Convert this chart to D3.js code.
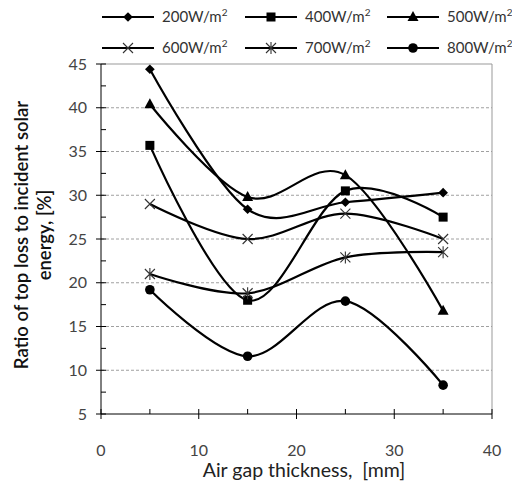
<!DOCTYPE html>
<html>
<head>
<meta charset="utf-8">
<script src="https://cdn.jsdelivr.net/npm/d3@7"></script>
<style>
  body { margin: 0; background: #fff; }
  text { font-family: Lato, "Open Sans", sans-serif; white-space: pre; }
</style>
</head>
<body>
<script>
// data
var gaps = [5, 15, 25, 35];
var labels = ["200", "400", "500", "600", "700", "800"];
var shapes = ["diamond", "square", "triangle", "cross", "asterisk", "circle"];
var s200 = [44.4, 28.4, 29.2, 30.3];
var s400 = [35.7, 18.0, 30.5, 27.5];
var s500 = [40.4, 29.8, 32.3, 16.8];
var s600 = [29.0, 25.0, 27.9, 25.0];
var s700 = [21.0, 18.8, 22.9, 23.5];
var s800 = [19.2, 11.6, 17.9, 8.3];
var series = [s200, s400, s500, s600, s700, s800];
var xTicks = [0, 10, 20, 30, 40];
var yTicks = [5, 10, 15, 20, 25, 30, 35, 40, 45];

var width = 512;
var height = 484;
var pLeft = 101, pRight = 492, pTop = 64, pBottom = 414;

var svg = d3.select("body").append("svg")
  .attr("width", width)
  .attr("height", height);

var xScale = d3.scaleLinear().domain([0, 40]).range([pLeft, pRight]);
var yScale = d3.scaleLinear().domain([5, 45]).range([pBottom, pTop]);

//dashed grid lines
svg.append("g").selectAll("line")
  .data(yTicks.filter(function(d) { return d > 5 && d < 45; }))
  .enter().append("line")
  .attr("x1", pLeft).attr("x2", pRight)
  .attr("y1", function(d) { return yScale(d); })
  .attr("y2", function(d) { return yScale(d); })
  .attr("stroke", "#a0a0a0")
  .attr("stroke-dasharray", "3,2");

//plot border on top and right
svg.append("path")
  .attr("d", "M" + pLeft + "," + pTop + "H" + pRight + "V" + pBottom)
  .attr("fill", "none")
  .attr("stroke", "#999");

//y axis with crossing major ticks and inner minor ticks
var yAxis = svg.append("g");
yAxis.append("line").attr("x1", pLeft).attr("x2", pLeft).attr("y1", pTop).attr("y2", pBottom).attr("stroke", "#000");
yAxis.selectAll(".maj").data(yTicks).enter().append("line")
  .attr("x1", pLeft - 5).attr("x2", pLeft + 5)
  .attr("y1", function(d) { return yScale(d); }).attr("y2", function(d) { return yScale(d); })
  .attr("stroke", "#000");
yAxis.selectAll(".min").data(d3.range(7.5, 45, 5)).enter().append("line")
  .attr("x1", pLeft).attr("x2", pLeft + 5)
  .attr("y1", function(d) { return yScale(d); }).attr("y2", function(d) { return yScale(d); })
  .attr("stroke", "#000");
yAxis.selectAll("text").data(yTicks).enter().append("text")
  .attr("x", pLeft - 14).attr("y", function(d) { return yScale(d); })
  .attr("dy", "0.35em").attr("text-anchor", "end")
  .attr("font-size", 16).attr("fill", "#444")
  .text(function(d) { return d; });

//x axis
var xAxis = svg.append("g");
xAxis.append("line").attr("x1", pLeft).attr("x2", pRight).attr("y1", pBottom).attr("y2", pBottom).attr("stroke", "#000");
xAxis.selectAll(".maj").data(xTicks).enter().append("line")
  .attr("x1", function(d) { return xScale(d); }).attr("x2", function(d) { return xScale(d); })
  .attr("y1", pBottom - 5).attr("y2", pBottom + 5)
  .attr("stroke", "#000");
xAxis.selectAll(".min").data(gaps).enter().append("line")
  .attr("x1", function(d) { return xScale(d); }).attr("x2", function(d) { return xScale(d); })
  .attr("y1", pBottom - 5).attr("y2", pBottom)
  .attr("stroke", "#000");
xAxis.selectAll("text").data(xTicks).enter().append("text")
  .attr("x", function(d) { return xScale(d); }).attr("y", 456)
  .attr("text-anchor", "middle")
  .attr("font-size", 16).attr("fill", "#444")
  .text(function(d) { return d; });

//axis titles
svg.append("text")
  .attr("x", 304).attr("y", 477)
  .attr("text-anchor", "middle")
  .attr("font-size", 19.5).attr("fill", "#222")
  .text("Air gap thickness,  [mm]");

var yTitle = svg.append("text")
  .attr("transform", "translate(0,235) rotate(-90)")
  .attr("text-anchor", "middle")
  .attr("font-size", 18.5).attr("font-weight", 600).attr("fill", "#111");
yTitle.append("tspan").attr("x", 0).attr("y", 28).text("Ratio of top loss to incident solar");
yTitle.append("tspan").attr("x", 0).attr("y", 51).text("energy, [%]");

//marker drawing
function marker(g, shape) {
  if (shape == "diamond") g.append("path").attr("d", d3.symbol(d3.symbolDiamond2, 60)()).attr("fill", "#000");
  if (shape == "square") g.append("rect").attr("x", -4.5).attr("y", -4.5).attr("width", 9).attr("height", 9).attr("fill", "#000");
  if (shape == "triangle") g.append("path").attr("d", "M0,-6L5.5,4L-5.5,4Z").attr("fill", "#000");
  if (shape == "circle") g.append("circle").attr("r", 4.8).attr("fill", "#000");
  if (shape == "cross") g.append("path").attr("d", "M-5,-5L5,5M-5,5L5,-5").attr("stroke", "#333").attr("stroke-width", 1.1);
  if (shape == "asterisk") g.append("path").attr("d", "M-5,-5L5,5M-5,5L5,-5M0,-6V6").attr("stroke", "#333").attr("stroke-width", 1.1);
}

var line = d3.line()
  .x(function(d, i) { return xScale(gaps[i]); })
  .y(function(d) { return yScale(d); })
  .curve(d3.curveCatmullRom.alpha(0));

series.forEach(function(vals, k) {
  svg.append("path")
    .attr("d", line(vals))
    .attr("fill", "none")
    .attr("stroke", "#000")
    .attr("stroke-width", 2.2);
  vals.forEach(function(v, i) {
    var g = svg.append("g").attr("transform", "translate(" + xScale(gaps[i]) + "," + yScale(v) + ")");
    marker(g, shapes[k]);
  });
});

//legend in two rows of three
var legX = [102, 245, 387];
var legY = [17, 48];
labels.forEach(function(lab, k) {
  var lx = legX[k % 3], ly = legY[Math.floor(k / 3)];
  svg.append("line").attr("x1", lx).attr("x2", lx + 52).attr("y1", ly).attr("y2", ly)
    .attr("stroke", "#000").attr("stroke-width", 2.2);
  marker(svg.append("g").attr("transform", "translate(" + (lx + 26) + "," + ly + ")"), shapes[k]);
  var t = svg.append("text").attr("x", lx + 60).attr("y", ly + 5)
    .attr("font-size", 15).attr("fill", "#333");
  t.append("tspan").text(lab + "W/m");
  t.append("tspan").attr("font-size", 10).attr("dy", -6).text("2");
});
</script>
</body>
</html>
